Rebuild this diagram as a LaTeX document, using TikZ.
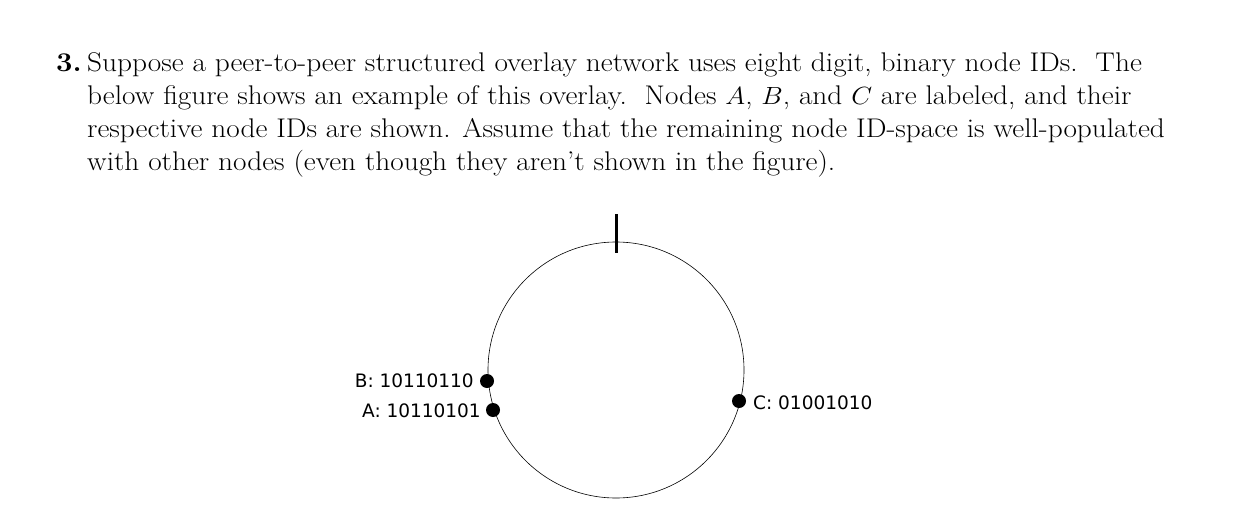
\documentclass[tikz,border=0pt]{standalone}
\usepackage{fontspec}
\newfontfamily\lab{DejaVu Sans}
\begin{document}
\begin{tikzpicture}[x=1pt,y=-1pt,
  para/.style={anchor=base west,inner sep=0pt,font=\fontsize{27}{30}\selectfont,xscale=1.085,transform shape},
  lbl/.style={inner sep=0pt,font=\lab\fontsize{18.5}{20}\selectfont},
  dot/.style={circle,fill=black,inner sep=0pt,minimum size=14pt}]
\useasboundingbox (0,0) rectangle (1242,514);
\node[para] (n3) at (56,71) {\textbf{3.}};
\node[para] (l1) at (87,71) {Suppose a peer-to-peer structured overlay network uses eight digit, binary node IDs.\ \ The};
\node[para] (l2) at (87,104) {below figure shows an example of this overlay.\ \ Nodes $A$, $B$, and $C$ are labeled, and their};
\node[para] (l3) at (87,137) {respective node IDs are shown. Assume that the remaining node ID-space is well-populated};
\node[para] (l4) at (87,170) {with other nodes (even though they aren't shown in the figure).};
\coordinate (O) at (616,370);
\draw[line width=0.6pt] (O) circle (128);
\coordinate (t1) at (616,214);
\coordinate (t2) at (616,253);
\draw[line width=3pt] (t1) -- (t2);
\node[dot] (B) at (487,381) {};
\node[dot] (A) at (493,410) {};
\node[dot] (C) at (739,401) {};
\node[lbl,anchor=east] (Bl) at (474,381) {B: 10110110};
\node[lbl,anchor=east] (Al) at (481,411) {A: 10110101};
\node[lbl,anchor=west] (Cl) at (753,403) {C: 01001010};
\end{tikzpicture}
\end{document}
